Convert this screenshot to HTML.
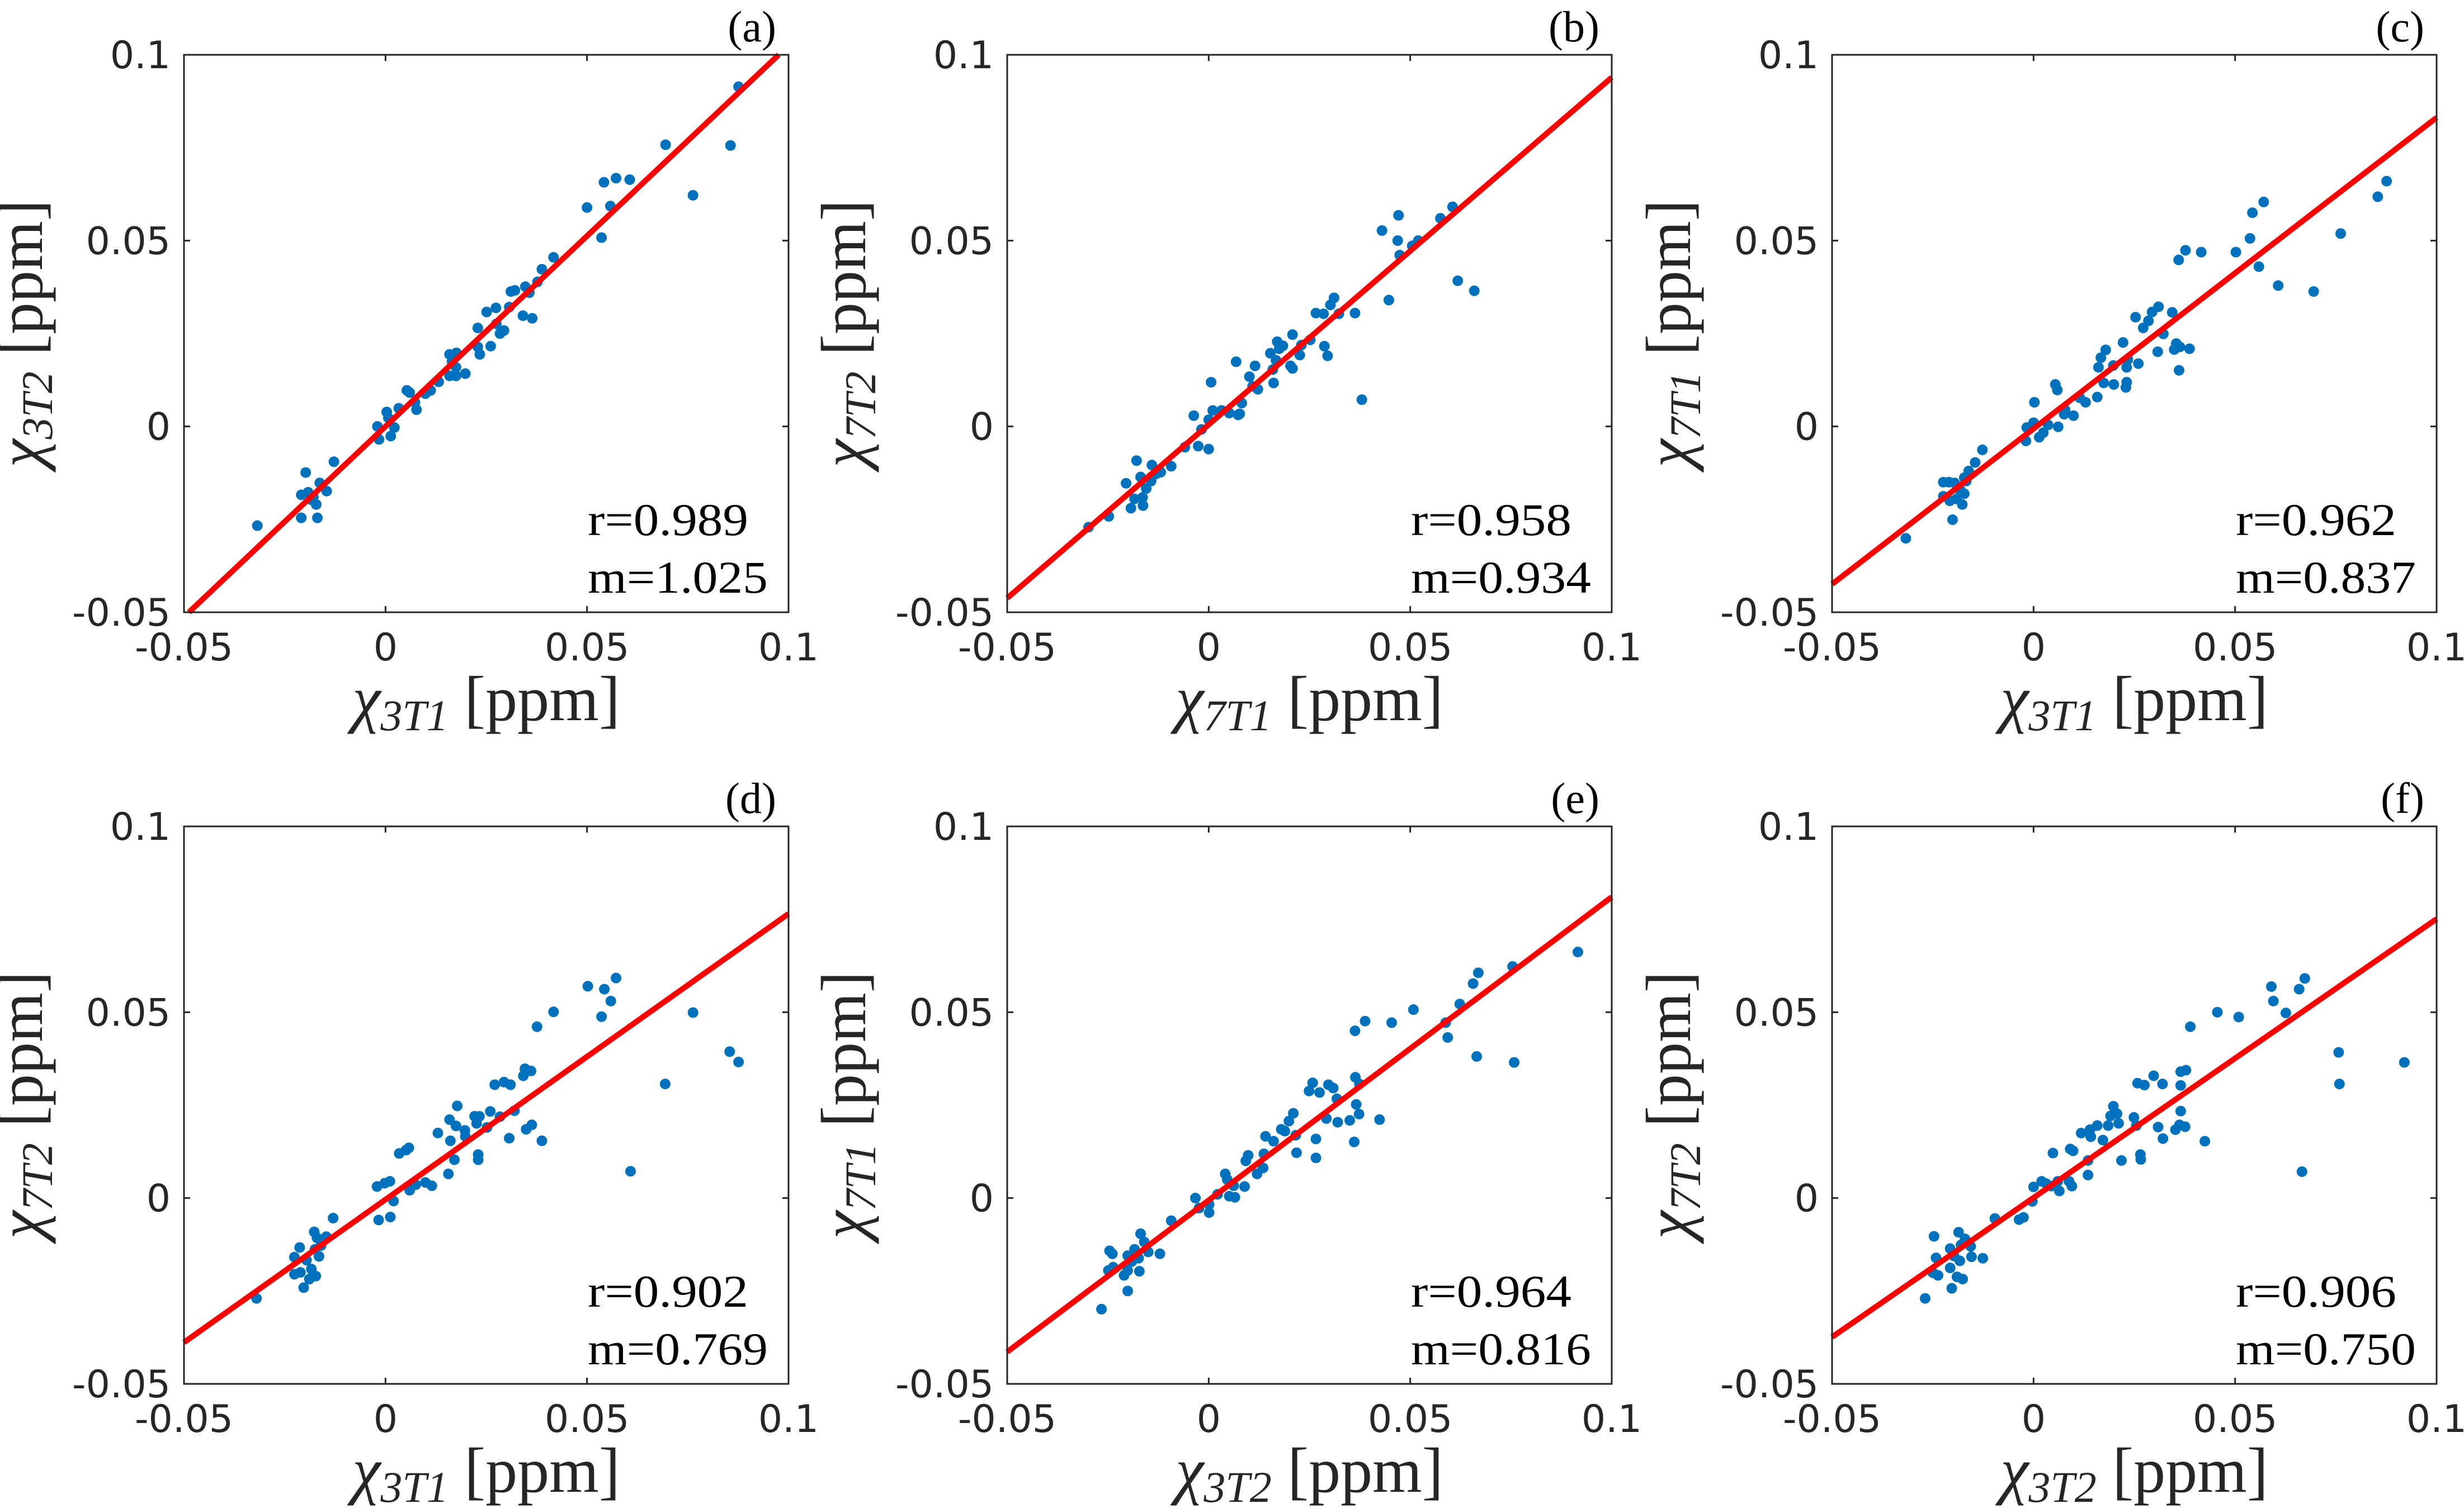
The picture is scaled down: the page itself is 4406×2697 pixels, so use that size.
<!DOCTYPE html>
<html><head><meta charset="utf-8"><style>
html,body{margin:0;padding:0;background:#fff;}
svg{display:block;}
</style></head><body>
<svg id="fig" xmlns="http://www.w3.org/2000/svg" width="4406" height="2697" viewBox="0 0 4406 2697">
<rect width="4406" height="2697" fill="#fff"/>
</svg>
<script>
// ---- data (ppm) ----
const aX=[-0.0318,-0.0198,-0.0209,-0.0192,-0.0185,-0.0172,-0.0209,-0.0169,-0.0163,-0.0146,-0.0128,-0.0179,-0.0020,-0.0016,0.0003,0.0007,0.0013,0.0022,0.0033,0.0053,0.0060,0.0073,0.0077,0.0099,0.0112,0.0132,0.0159,0.0165,0.0176,0.0175,0.0159,0.0175,0.0198,0.0229,0.0229,0.0234,0.0251,0.0261,0.0274,0.0275,0.0284,0.0294,0.0307,0.0311,0.0321,0.0341,0.0347,0.0357,0.0364,0.0377,0.0388,0.0417,0.0500,0.0536,0.0542,0.0558,0.0572,0.0606,0.0695,0.0763,0.0856,0.0876];
const aY=[-0.0267,-0.0124,-0.0184,-0.0177,-0.0197,-0.0210,-0.0246,-0.0246,-0.0152,-0.0174,-0.0095,-0.0190,0.0000,-0.0035,0.0039,0.0023,-0.0026,-0.0003,0.0049,0.0097,0.0091,0.0065,0.0045,0.0088,0.0097,0.0120,0.0194,0.0175,0.0198,0.0159,0.0136,0.0136,0.0142,0.0265,0.0214,0.0194,0.0308,0.0216,0.0319,0.0276,0.0250,0.0258,0.0321,0.0363,0.0366,0.0298,0.0376,0.0360,0.0291,0.0389,0.0423,0.0455,0.0589,0.0508,0.0657,0.0593,0.0668,0.0664,0.0758,0.0622,0.0756,0.0914];
const bX=[-0.0298,-0.0248,-0.0205,-0.0193,-0.0179,-0.0169,-0.0163,-0.0155,-0.0143,-0.0141,-0.0131,-0.0119,-0.0093,-0.0184,-0.0164,-0.0059,-0.0026,0.0000,-0.0018,-0.0037,0.0006,0.0000,0.0010,0.0032,0.0051,0.0073,0.0077,0.0082,0.0068,0.0101,0.0115,0.0109,0.0122,0.0161,0.0159,0.0153,0.0170,0.0175,0.0184,0.0167,0.0208,0.0208,0.0203,0.0226,0.0230,0.0252,0.0287,0.0295,0.0266,0.0285,0.0302,0.0311,0.0323,0.0363,0.0380,0.0430,0.0447,0.0471,0.0469,0.0474,0.0505,0.0520,0.0575,0.0605,0.0618,0.0659];
const bY=[-0.0271,-0.0242,-0.0153,-0.0220,-0.0092,-0.0136,-0.0213,-0.0167,-0.0147,-0.0104,-0.0128,-0.0123,-0.0107,-0.0195,-0.0191,-0.0056,-0.0053,-0.0061,-0.0008,0.0029,0.0119,0.0018,0.0043,0.0043,0.0036,0.0031,0.0034,0.0063,0.0174,0.0134,0.0163,0.0108,0.0100,0.0117,0.0153,0.0197,0.0228,0.0209,0.0217,0.0178,0.0247,0.0156,0.0163,0.0192,0.0219,0.0233,0.0216,0.0190,0.0305,0.0303,0.0327,0.0346,0.0303,0.0305,0.0072,0.0527,0.0340,0.0568,0.0500,0.0461,0.0486,0.0500,0.0560,0.0591,0.0392,0.0365];
const cX=[-0.0317,-0.0201,-0.0224,-0.0210,-0.0196,-0.0224,-0.0208,-0.0177,-0.0182,-0.0172,-0.0167,-0.0172,-0.0161,-0.0145,-0.0127,-0.0191,-0.0019,-0.0017,0.0000,0.0002,0.0014,0.0024,0.0036,0.0061,0.0054,0.0059,0.0076,0.0078,0.0099,0.0115,0.0129,0.0158,0.0161,0.0167,0.0179,0.0174,0.0199,0.0198,0.0222,0.0231,0.0231,0.0229,0.0234,0.0260,0.0253,0.0272,0.0285,0.0294,0.0310,0.0308,0.0322,0.0344,0.0349,0.0354,0.0363,0.0387,0.0361,0.0360,0.0377,0.0416,0.0502,0.0537,0.0543,0.0571,0.0559,0.0607,0.0695,0.0762,0.0854,0.0876];
const cY=[-0.0301,-0.0251,-0.0150,-0.0150,-0.0152,-0.0188,-0.0200,-0.0210,-0.0171,-0.0181,-0.0147,-0.0138,-0.0120,-0.0097,-0.0063,-0.0195,-0.0039,-0.0003,0.0010,0.0065,-0.0029,-0.0017,0.0004,-0.0001,0.0113,0.0098,0.0033,0.0045,0.0029,0.0077,0.0065,0.0079,0.0159,0.0185,0.0206,0.0117,0.0113,0.0164,0.0226,0.0159,0.0119,0.0105,0.0180,0.0169,0.0294,0.0265,0.0284,0.0308,0.0322,0.0201,0.0249,0.0307,0.0207,0.0223,0.0214,0.0209,0.0151,0.0448,0.0474,0.0469,0.0469,0.0506,0.0575,0.0604,0.0430,0.0379,0.0363,0.0519,0.0618,0.0660];
const dX=[-0.0320,-0.0203,-0.0226,-0.0213,-0.0226,-0.0211,-0.0189,-0.0173,-0.0184,-0.0196,-0.0177,-0.0170,-0.0165,-0.0160,-0.0147,-0.0175,-0.0130,-0.0017,0.0012,0.0020,-0.0021,-0.0002,0.0011,0.0034,0.0051,0.0058,0.0060,0.0075,0.0099,0.0115,0.0130,0.0156,0.0161,0.0159,0.0171,0.0175,0.0178,0.0197,0.0198,0.0221,0.0233,0.0226,0.0230,0.0230,0.0252,0.0260,0.0271,0.0284,0.0294,0.0310,0.0307,0.0320,0.0342,0.0346,0.0361,0.0349,0.0363,0.0388,0.0376,0.0417,0.0502,0.0536,0.0543,0.0559,0.0572,0.0608,0.0694,0.0763,0.0854,0.0876];
const dY=[-0.0270,-0.0241,-0.0159,-0.0133,-0.0205,-0.0200,-0.0218,-0.0210,-0.0191,-0.0167,-0.0091,-0.0107,-0.0157,-0.0128,-0.0104,-0.0138,-0.0054,-0.0059,-0.0051,-0.0008,0.0031,0.0040,0.0045,0.0120,0.0129,0.0135,0.0021,0.0036,0.0042,0.0033,0.0175,0.0065,0.0154,0.0211,0.0103,0.0194,0.0248,0.0182,0.0166,0.0220,0.0220,0.0201,0.0117,0.0103,0.0190,0.0233,0.0305,0.0219,0.0312,0.0305,0.0161,0.0235,0.0329,0.0348,0.0342,0.0185,0.0197,0.0154,0.0461,0.0501,0.0570,0.0488,0.0562,0.0530,0.0592,0.0072,0.0307,0.0499,0.0394,0.0366];
const eX=[-0.0266,-0.0201,-0.0246,-0.0239,-0.0249,-0.0237,-0.0210,-0.0201,-0.0201,-0.0184,-0.0174,-0.0172,-0.0169,-0.0160,-0.0150,-0.0121,-0.0191,-0.0093,-0.0033,-0.0024,0.0001,0.0001,0.0022,0.0051,0.0065,0.0062,0.0089,0.0041,0.0046,0.0092,0.0098,0.0120,0.0135,0.0137,0.0141,0.0161,0.0180,0.0199,0.0210,0.0218,0.0216,0.0189,0.0266,0.0266,0.0249,0.0258,0.0275,0.0292,0.0297,0.0309,0.0318,0.0320,0.0350,0.0361,0.0364,0.0366,0.0373,0.0374,0.0424,0.0363,0.0388,0.0454,0.0508,0.0588,0.0593,0.0623,0.0656,0.0669,0.0665,0.0754,0.0758,0.0916];
const eY=[-0.0299,-0.0250,-0.0142,-0.0150,-0.0195,-0.0186,-0.0208,-0.0195,-0.0155,-0.0138,-0.0162,-0.0197,-0.0096,-0.0118,-0.0145,-0.0150,-0.0171,-0.0061,0.0000,-0.0027,-0.0017,-0.0039,0.0010,0.0005,0.0002,0.0033,0.0031,0.0065,0.0050,0.0100,0.0115,0.0065,0.0081,0.0119,0.0166,0.0153,0.0185,0.0207,0.0228,0.0122,0.0169,0.0180,0.0159,0.0108,0.0288,0.0310,0.0284,0.0214,0.0305,0.0296,0.0267,0.0204,0.0209,0.0151,0.0325,0.0252,0.0226,0.0307,0.0211,0.0450,0.0476,0.0472,0.0507,0.0472,0.0432,0.0522,0.0577,0.0606,0.0381,0.0623,0.0365,0.0662];
const fX=[-0.0269,-0.0247,-0.0242,-0.0250,-0.0237,-0.0203,-0.0207,-0.0207,-0.0197,-0.0190,-0.0186,-0.0183,-0.0180,-0.0176,-0.0170,-0.0156,-0.0154,-0.0126,-0.0096,-0.0036,-0.0025,-0.0003,0.0000,0.0020,0.0031,0.0044,0.0048,0.0060,0.0064,0.0088,0.0095,0.0091,0.0098,0.0135,0.0135,0.0118,0.0140,0.0142,0.0158,0.0172,0.0185,0.0191,0.0198,0.0207,0.0211,0.0218,0.0249,0.0258,0.0275,0.0255,0.0265,0.0266,0.0298,0.0309,0.0320,0.0321,0.0352,0.0365,0.0365,0.0365,0.0362,0.0378,0.0376,0.0389,0.0425,0.0456,0.0509,0.0590,0.0595,0.0626,0.0659,0.0673,0.0666,0.0757,0.0759,0.0920];
const fY=[-0.0270,-0.0103,-0.0161,-0.0201,-0.0208,-0.0243,-0.0136,-0.0188,-0.0156,-0.0212,-0.0092,-0.0169,-0.0126,-0.0218,-0.0110,-0.0130,-0.0158,-0.0162,-0.0055,-0.0058,-0.0052,-0.0009,0.0030,0.0045,0.0039,0.0032,0.0121,0.0045,0.0019,0.0045,0.0032,0.0132,0.0127,0.0101,0.0062,0.0175,0.0184,0.0165,0.0195,0.0156,0.0195,0.0221,0.0247,0.0227,0.0201,0.0101,0.0217,0.0309,0.0304,0.0195,0.0117,0.0104,0.0329,0.0191,0.0307,0.0160,0.0184,0.0234,0.0303,0.0340,0.0197,0.0344,0.0192,0.0461,0.0153,0.0500,0.0487,0.0569,0.0530,0.0498,0.0562,0.0591,0.0071,0.0392,0.0307,0.0365];
const panelLetters=["(a)","(b)","(c)","(d)","(e)","(f)"];
const fitSlopes=[1.025,0.934,0.837,0.769,0.816,0.750];
const fitIntercepts=[0.0000,0.0005,-0.0006,-0.0004,-0.0006,0.0001];
const rTexts=["r=0.989","r=0.958","r=0.962","r=0.902","r=0.964","r=0.906"];
const mTexts=["m=1.025","m=0.934","m=0.837","m=0.769","m=0.816","m=0.750"];
const xSubs=["3T1","7T1","3T1","3T1","3T2","3T2"];
const ySubs=["3T2","7T2","7T1","7T2","7T1","7T2"];
const tickValues=[-0.05,0,0.05,0.1];
const tickLabels=["-0.05","0","0.05","0.1"];
const seriesX=[aX,bX,cX,dX,eX,fX];
const seriesY=[aY,bY,cY,dY,eY,fY];

const NS="http://www.w3.org/2000/svg";
const svg=document.getElementById('fig');
function mk(tag,attrs,parent){const e=document.createElementNS(NS,tag);for(const k in attrs)e.setAttribute(k,attrs[k]);parent.appendChild(e);return e;}
const lefts=[329,1801,3276], tops=[98,1478], W=1081, H=997;
const XMIN=-0.05,XMAX=0.1,YMIN=-0.05,YMAX=0.1;
const TICKFONT='"DejaVu Sans","Liberation Sans",sans-serif';
const SERIF='"Liberation Serif","DejaVu Serif",serif';

for(let p=0;p<6;p++){
  const L=lefts[p%3], T=tops[Math.floor(p/3)];
  const sx=v=>L+(v-XMIN)/(XMAX-XMIN)*W;
  const sy=v=>T+H-(v-YMIN)/(YMAX-YMIN)*H;
  const g=mk('g',{},svg);
  
  
  tickValues.forEach((v,i)=>{
    const x=sx(v), y=sy(v);
    if(i>0&&i<3){
      mk('line',{x1:x,y1:T+H,x2:x,y2:T+H-11,stroke:'#262626','stroke-width':3},g);
      mk('line',{x1:x,y1:T,x2:x,y2:T+11,stroke:'#262626','stroke-width':3},g);
      mk('line',{x1:L,y1:y,x2:L+11,y2:y,stroke:'#262626','stroke-width':3},g);
      mk('line',{x1:L+W,y1:y,x2:L+W-11,y2:y,stroke:'#262626','stroke-width':3},g);
    }
    const xt=mk('text',{x:x,y:T+H+86,'text-anchor':'middle','font-family':TICKFONT,'font-size':68,fill:'#262626'},g);
    xt.textContent=tickLabels[i];
    
    
    const yt=mk('text',{x:L-24,y:y+24,'text-anchor':'end','font-family':TICKFONT,'font-size':68,fill:'#262626'},g);
    yt.textContent=tickLabels[i];
    
    
  });
  const xs=seriesX[p], ys=seriesY[p];
  for(let i=0;i<xs.length;i++){
    const c=mk('circle',{cx:sx(xs[i]),cy:sy(ys[i]),r:9.5,fill:'#0072BD'},g);
    
    
  }
  const m=fitSlopes[p], b=fitIntercepts[p];
  let x0=XMIN, y0=m*x0+b; if(y0<YMIN){x0=(YMIN-b)/m;y0=YMIN;}
  let x1=XMAX, y1=m*x1+b; if(y1>YMAX){x1=(YMAX-b)/m;y1=YMAX;}
  const ln=mk('line',{x1:sx(x0),y1:sy(y0),x2:sx(x1),y2:sy(y1),stroke:'#FF0000','stroke-width':10},g);
  
  
  const bx=mk('rect',{x:L,y:T,width:W,height:H,fill:'none',stroke:'#262626','stroke-width':3},g);
  
  
  const rt=mk('text',{x:L+722,y:T+859,'font-family':SERIF,'font-size':82,fill:'#000',textLength:287,lengthAdjust:'spacingAndGlyphs'},g);
  rt.textContent=rTexts[p];
  
  
  const mt=mk('text',{x:L+722,y:T+962,'font-family':SERIF,'font-size':82,fill:'#000',textLength:322,lengthAdjust:'spacingAndGlyphs'},g);
  mt.textContent=mTexts[p];
  
  
  const pl=mk('text',{x:L+W-22,y:T-24,'text-anchor':'end','font-family':SERIF,'font-size':78,fill:'#000'},g);
  pl.textContent=panelLetters[p];
  
  
  const xl=mk('text',{x:L+W/2,y:T+H+193,'text-anchor':'middle','font-family':SERIF,'font-size':114,fill:'#262626'},g);
  
  
  xl.innerHTML='<tspan font-style="italic">χ</tspan><tspan font-size="78" dy="18" font-style="italic">'+xSubs[p]+'</tspan><tspan dy="-18">  [ppm]</tspan>';
  const cy=T+H/2;
  const yl=mk('text',{x:0,y:0,transform:'translate('+(L-254)+','+cy+') rotate(-90)','text-anchor':'middle','font-family':SERIF,'font-size':114,fill:'#262626'},g);
  
  
  yl.innerHTML='<tspan font-style="italic">χ</tspan><tspan font-size="78" dy="18" font-style="italic">'+ySubs[p]+'</tspan><tspan dy="-18">  [ppm]</tspan>';
}
</script>
</body></html>
